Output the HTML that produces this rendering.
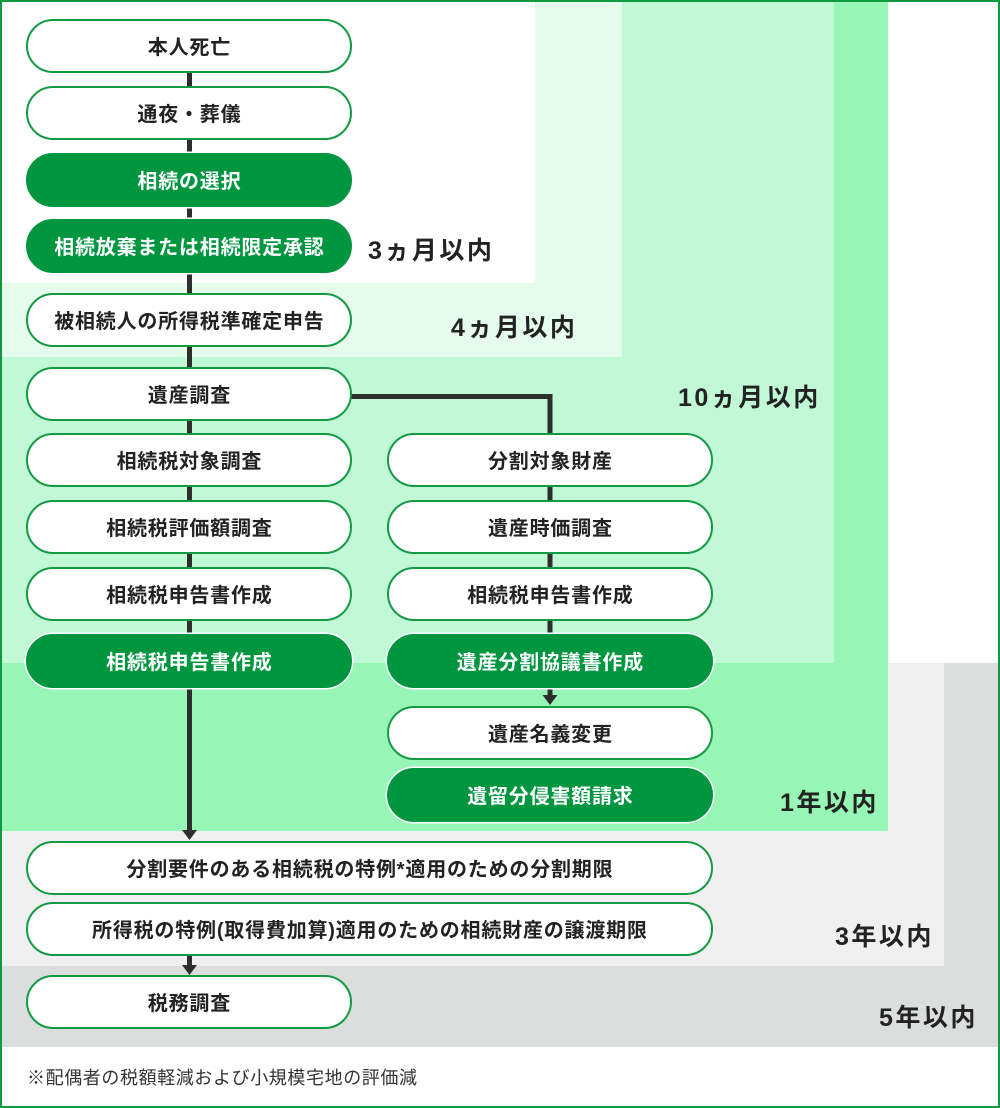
<!DOCTYPE html>
<html><head><meta charset="utf-8">
<style>
*{margin:0;padding:0;box-sizing:border-box}
html,body{width:1000px;height:1108px;overflow:hidden;background:#fff}
body{position:relative;font-family:"Liberation Sans","Noto Sans CJK JP",sans-serif}
.bg{position:absolute}
.n{position:absolute;height:54px;border-radius:27px;border:2px solid #139a43;background:#fff;color:#222;font-size:20px;font-weight:700;letter-spacing:0.8px;text-indent:0.8px;text-align:center;line-height:54px;white-space:nowrap;overflow:hidden}
.f{background:#009640;border-color:#009640;color:#fff;box-shadow:0 0 0 1.5px #fff}
.L{left:26px;width:326px}
.R{left:387px;width:326px}
.W{left:26px;width:687px}
.lab{position:absolute;font-size:25px;font-weight:700;color:#222;letter-spacing:2.5px;line-height:30px;white-space:nowrap}
.ft{position:absolute;left:27px;top:1066px;font-size:18px;color:#333;letter-spacing:0.6px;line-height:24px;white-space:nowrap}
.frame{position:absolute;left:0;top:0;width:1000px;height:1108px;border:2px solid #109a3f;pointer-events:none}
svg{position:absolute;left:0;top:0}
</style></head><body>
<div class="bg" style="left:0;top:663px;width:998px;height:384px;background:#dcdedd"></div>
<div class="bg" style="left:0;top:663px;width:944px;height:303px;background:#eff0ef"></div>
<div class="bg" style="left:0;top:0;width:888px;height:831px;background:#97f5b6"></div>
<div class="bg" style="left:0;top:0;width:834px;height:663px;background:#c1f8d6"></div>
<div class="bg" style="left:0;top:0;width:622px;height:357px;background:#e5fbeb"></div>
<div class="bg" style="left:0;top:0;width:535px;height:283px;background:#fff"></div>

<svg width="1000" height="1108" viewBox="0 0 1000 1108">
<g stroke="#2e2e2e" stroke-width="5" fill="none">
<line x1="189.5" y1="60" x2="189.5" y2="640"/>
<line x1="189.5" y1="680" x2="189.5" y2="831"/>
<polyline points="345,396.5 550,396.5 550,440"/>
<line x1="550" y1="480" x2="550" y2="640"/>
<line x1="550" y1="680" x2="550" y2="697"/>
<line x1="189.5" y1="950" x2="189.5" y2="966"/>
</g>
<g fill="#2e2e2e">
<polygon points="182,830 197,830 189.5,840"/>
<polygon points="542.5,695 557.5,695 550,705"/>
<polygon points="182,965 197,965 189.5,975"/>
</g>
</svg>

<div class="n L" style="top:19px">本人死亡</div>
<div class="n L" style="top:86px">通夜・葬儀</div>
<div class="n L f" style="top:153px">相続の選択</div>
<div class="n L f" style="top:219px">相続放棄または相続限定承認</div>
<div class="n L" style="top:293px">被相続人の所得税準確定申告</div>
<div class="n L" style="top:367px">遺産調査</div>
<div class="n L" style="top:433px">相続税対象調査</div>
<div class="n L" style="top:500px">相続税評価額調査</div>
<div class="n L" style="top:567px">相続税申告書作成</div>
<div class="n L f" style="top:634px">相続税申告書作成</div>

<div class="n R" style="top:433px">分割対象財産</div>
<div class="n R" style="top:500px">遺産時価調査</div>
<div class="n R" style="top:567px">相続税申告書作成</div>
<div class="n R f" style="top:634px">遺産分割協議書作成</div>
<div class="n R" style="top:706px">遺産名義変更</div>
<div class="n R f" style="top:768px">遺留分侵害額請求</div>

<div class="n W" style="top:841px">分割要件のある相続税の特例*適用のための分割期限</div>
<div class="n W" style="top:902px">所得税の特例(取得費加算)適用のための相続財産の譲渡期限</div>
<div class="n L" style="top:975px">税務調査</div>

<div class="lab" style="left:368px;top:236px">3ヵ月以内</div>
<div class="lab" style="left:451px;top:313px">4ヵ月以内</div>
<div class="lab" style="left:678px;top:383px">10ヵ月以内</div>
<div class="lab" style="left:780px;top:788px">1年以内</div>
<div class="lab" style="left:835px;top:922px">3年以内</div>
<div class="lab" style="left:879px;top:1003px">5年以内</div>

<div class="ft">※配偶者の税額軽減および小規模宅地の評価減</div>
<div class="frame"></div>
</body></html>
